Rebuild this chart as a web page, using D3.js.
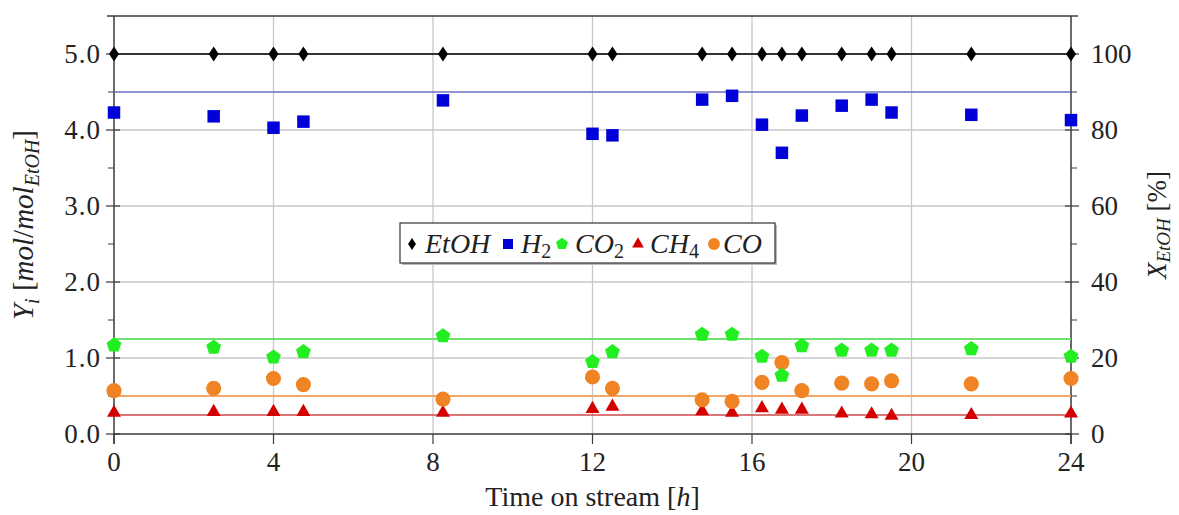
<!DOCTYPE html>
<html>
<head>
<meta charset="utf-8">
<script src="https://cdn.jsdelivr.net/npm/d3@7"></script>
<style>
  body { margin: 0; background: #fff; }
  svg { display: block; }
  text { font-family: "Liberation Serif", "Times New Roman", serif; fill: #222; }
</style>
</head>
<body>
<div id="chart"></div>
<script>
// Time on stream [h]
const times = [0, 2.5, 4, 4.75, 8.25, 12, 12.5, 14.75, 15.5, 16.25, 16.75, 17.25, 18.25, 19, 19.5, 21.5, 24];

// Yields [mol/mol EtOH] and conversion [%]
const etohConv = [100, 100, 100, 100, 100, 100, 100, 100, 100, 100, 100, 100, 100, 100, 100, 100, 100];
const h2  = [4.23, 4.18, 4.03, 4.11, 4.39, 3.95, 3.93, 4.40, 4.45, 4.07, 3.70, 4.19, 4.32, 4.40, 4.23, 4.20, 4.13];
const co2 = [1.17, 1.14, 1.01, 1.08, 1.29, 0.95, 1.08, 1.31, 1.31, 1.02, 0.77, 1.16, 1.10, 1.10, 1.10, 1.12, 1.02];
const co  = [0.57, 0.60, 0.73, 0.65, 0.46, 0.75, 0.60, 0.45, 0.43, 0.68, 0.94, 0.57, 0.67, 0.66, 0.70, 0.66, 0.73];
const ch4 = [0.28, 0.29, 0.29, 0.29, 0.28, 0.33, 0.36, 0.30, 0.28, 0.34, 0.32, 0.32, 0.27, 0.26, 0.24, 0.25, 0.27];

// equilibrium reference lines
const eqNames  = ["EtOH", "H2", "CO2", "CO", "CH4"];
const eqValues = [5.0, 4.5, 1.25, 0.5, 0.25];

const xTicks = [0, 4, 8, 12, 16, 20, 24];
const yTicks = [0, 1, 2, 3, 4, 5];
const y2Ticks = [0, 20, 40, 60, 80, 100];

const W = 1179, H = 515;
const svg = d3.select("#chart").append("svg")
  .attr("width", W).attr("height", H);

// scales
const x = d3.scaleLinear().domain([0, 24]).range([114, 1071]);
const y = d3.scaleLinear().domain([0, 5.5]).range([434, 16]);
const y2 = d3.scaleLinear().domain([0, 110]).range([434, 16]);

const axisColor = "#3a3a3a";

// grid
svg.append("g").selectAll("line.vg")
  .data(xTicks.slice(1, -1))
  .join("line")
  .attr("x1", d => x(d)).attr("x2", d => x(d))
  .attr("y1", y(5.5)).attr("y2", y(0))
  .attr("stroke", "#c8c8c8").attr("stroke-width", 1.3);

svg.append("g").selectAll("line.hg")
  .data(yTicks.slice(1))
  .join("line")
  .attr("x1", x(0)).attr("x2", x(24))
  .attr("y1", d => y(d)).attr("y2", d => y(d))
  .attr("stroke", "#c8c8c8").attr("stroke-width", 1.3);

// frame: top line, left and right axes
svg.append("line")
  .attr("x1", x(0) - 7).attr("x2", x(24) + 7)
  .attr("y1", y(5.5)).attr("y2", y(5.5))
  .attr("stroke", axisColor).attr("stroke-width", 1.5);

const tickFont = "27px";

// left axis
const leftAxis = svg.append("g").attr("transform", `translate(${x(0)},0)`);
leftAxis.append("line").attr("y1", y(5.5)).attr("y2", y(0) + 10)
  .attr("stroke", axisColor).attr("stroke-width", 1.5);
leftAxis.selectAll("line.tk").data(yTicks).join("line")
  .attr("x1", -8).attr("x2", 6)
  .attr("y1", d => y(d)).attr("y2", d => y(d))
  .attr("stroke", axisColor).attr("stroke-width", 1.2);
leftAxis.selectAll("line.mn").data(d3.range(0.5, 5, 1)).join("line")
  .attr("x1", -6).attr("x2", 0)
  .attr("y1", d => y(d)).attr("y2", d => y(d))
  .attr("stroke", axisColor).attr("stroke-width", 1);
leftAxis.selectAll("text").data(yTicks).join("text")
  .attr("x", -13).attr("y", d => y(d) + 9)
  .attr("text-anchor", "end")
  .style("font-size", tickFont)
  .style("letter-spacing", "1px")
  .text(d => d3.format(".1f")(d));

// right axis
const rightAxis = svg.append("g").attr("transform", `translate(${x(24)},0)`);
rightAxis.append("line").attr("y1", y(5.5)).attr("y2", y(0) + 10)
  .attr("stroke", axisColor).attr("stroke-width", 1.5);
rightAxis.selectAll("line.tk").data(y2Ticks).join("line")
  .attr("x1", -6).attr("x2", 8)
  .attr("y1", d => y2(d)).attr("y2", d => y2(d))
  .attr("stroke", axisColor).attr("stroke-width", 1.2);
rightAxis.selectAll("line.mn").data(d3.range(10, 110, 20)).join("line")
  .attr("x1", 0).attr("x2", 6)
  .attr("y1", d => y2(d)).attr("y2", d => y2(d))
  .attr("stroke", axisColor).attr("stroke-width", 1);
rightAxis.selectAll("text").data(y2Ticks).join("text")
  .attr("x", 20).attr("y", d => y2(d) + 9)
  .attr("text-anchor", "start")
  .style("font-size", tickFont)
  .text(d => d);

// bottom axis
const bottomAxis = svg.append("g").attr("transform", `translate(0,${y(0)})`);
bottomAxis.append("line").attr("x1", x(0)).attr("x2", x(24))
  .attr("stroke", axisColor).attr("stroke-width", 1.5);
bottomAxis.selectAll("line.tk").data(xTicks).join("line")
  .attr("x1", d => x(d)).attr("x2", d => x(d))
  .attr("y1", 0).attr("y2", 10)
  .attr("stroke", axisColor).attr("stroke-width", 1.2);
bottomAxis.selectAll("text").data(xTicks).join("text")
  .attr("x", d => x(d)).attr("y", 37)
  .attr("text-anchor", "middle")
  .style("font-size", tickFont)
  .text(d => d);

// axis titles
svg.append("text")
  .attr("x", (x(0) + x(24)) / 2).attr("y", 506)
  .attr("text-anchor", "middle")
  .style("font-size", "28px")
  .call(t => {
    t.append("tspan").text("Time on stream [");
    t.append("tspan").style("font-style", "italic").text("h");
    t.append("tspan").text("]");
  });

const yl = svg.append("text")
  .attr("transform", `translate(33,${(y(0) + y(5.5)) / 2}) rotate(-90)`)
  .attr("text-anchor", "middle")
  .style("font-size", "29px");
yl.append("tspan").style("font-style", "italic").text("Y");
yl.append("tspan").style("font-style", "italic").style("font-size", "20px").attr("dy", 6).text("i");
yl.append("tspan").attr("dy", -6).text(" [");
yl.append("tspan").style("font-style", "italic").text("mol");
yl.append("tspan").text("/");
yl.append("tspan").style("font-style", "italic").text("mol");
yl.append("tspan").style("font-style", "italic").style("font-size", "20px").attr("dy", 6).text("EtOH");
yl.append("tspan").attr("dy", -6).text("]");

const yr = svg.append("text")
  .attr("transform", `translate(1166,${(y(0) + y(5.5)) / 2}) rotate(-90)`)
  .attr("text-anchor", "middle")
  .style("font-size", "27px");
yr.append("tspan").style("font-style", "italic").text("X");
yr.append("tspan").style("font-style", "italic").style("font-size", "19px").attr("dy", 4).text("EtOH");
yr.append("tspan").attr("dy", -4).text(" [%]");

// equilibrium lines
const eqColors = {
  EtOH: "#333333", H2: "#6f6fc4", CO2: "#6ee06e", CO: "#f2a868", CH4: "#d24a4a"
};
const eqWidths = { EtOH: 2, H2: 1.5, CO2: 2, CO: 2, CH4: 1.6 };
svg.append("g").selectAll("line")
  .data(eqNames.map((n, i) => ({ name: n, v: eqValues[i] })))
  .join("line")
  .attr("x1", x(0)).attr("x2", x(24))
  .attr("y1", d => y(d.v)).attr("y2", d => y(d.v))
  .attr("stroke", d => eqColors[d.name])
  .attr("stroke-width", d => eqWidths[d.name]);

// marker shapes
function pentagon(r) {
  const pts = d3.range(5).map(k => {
    const a = -Math.PI / 2 + k * 2 * Math.PI / 5;
    return [r * Math.cos(a), r * Math.sin(a)];
  });
  return d3.line()(pts) + "Z";
}
function diamond(w, h) {
  return d3.line()([[0, -h / 2], [w / 2, 0], [0, h / 2], [-w / 2, 0]]) + "Z";
}
const shapes = {
  diamond: diamond(10, 15),
  square: d3.symbol(d3.symbolSquare, 156)(),
  pentagon: pentagon(7.8),
  triangle: d3.symbol(d3.symbolTriangle, 85)(),
  circle: d3.symbol(d3.symbolCircle, 180)()
};

const series = [
  { name: "CH4", values: ch4, scale: y, shape: "triangle", color: "#d40000" },
  { name: "CO", values: co, scale: y, shape: "circle", color: "#f08424" },
  { name: "CO2", values: co2, scale: y, shape: "pentagon", color: "#22ee22" },
  { name: "H2", values: h2, scale: y, shape: "square", color: "#0000d8" },
  { name: "EtOH", values: etohConv, scale: y2, shape: "diamond", color: "#000000" }
];

series.forEach(s => {
  svg.append("g").selectAll("path")
    .data(times.map((t, i) => [t, s.values[i]]))
    .join("path")
    .attr("d", shapes[s.shape])
    .attr("transform", d => `translate(${x(d[0])},${s.scale(d[1])})`)
    .attr("fill", s.color);
});

// legend
const lg = svg.append("g");
lg.append("rect").attr("x", 402).attr("y", 225).attr("width", 375).attr("height", 40)
  .attr("fill", "#bbb");
lg.append("rect").attr("x", 400).attr("y", 223).attr("width", 375).attr("height", 40)
  .attr("fill", "#fff").attr("stroke", "#333").attr("stroke-width", 1.2);

const legendShapes = {
  diamond: diamond(8, 12),
  square: d3.symbol(d3.symbolSquare, 100)(),
  pentagon: pentagon(6.3),
  triangle: d3.symbol(d3.symbolTriangle, 60)(),
  circle: d3.symbol(d3.symbolCircle, 110)()
};
const legendItems = [
  { shape: "diamond", color: "#000000", label: "EtOH", sub: "", mx: 412, tx: 425 },
  { shape: "square", color: "#0000d8", label: "H", sub: "2", mx: 508, tx: 521 },
  { shape: "pentagon", color: "#22ee22", label: "CO", sub: "2", mx: 562, tx: 575 },
  { shape: "triangle", color: "#d40000", label: "CH", sub: "4", mx: 638, tx: 650 },
  { shape: "circle", color: "#f08424", label: "CO", sub: "", mx: 714, tx: 723 }
];
legendItems.forEach(it => {
  lg.append("path")
    .attr("d", legendShapes[it.shape])
    .attr("transform", `translate(${it.mx},${244})`)
    .attr("fill", it.color);
  const t = lg.append("text").attr("x", it.tx).attr("y", 253)
    .style("font-size", "28px");
  t.append("tspan").style("font-style", "italic").text(it.label);
  if (it.sub) t.append("tspan").style("font-size", "20px").attr("dy", 5).text(it.sub);
});
</script>
</body>
</html>
